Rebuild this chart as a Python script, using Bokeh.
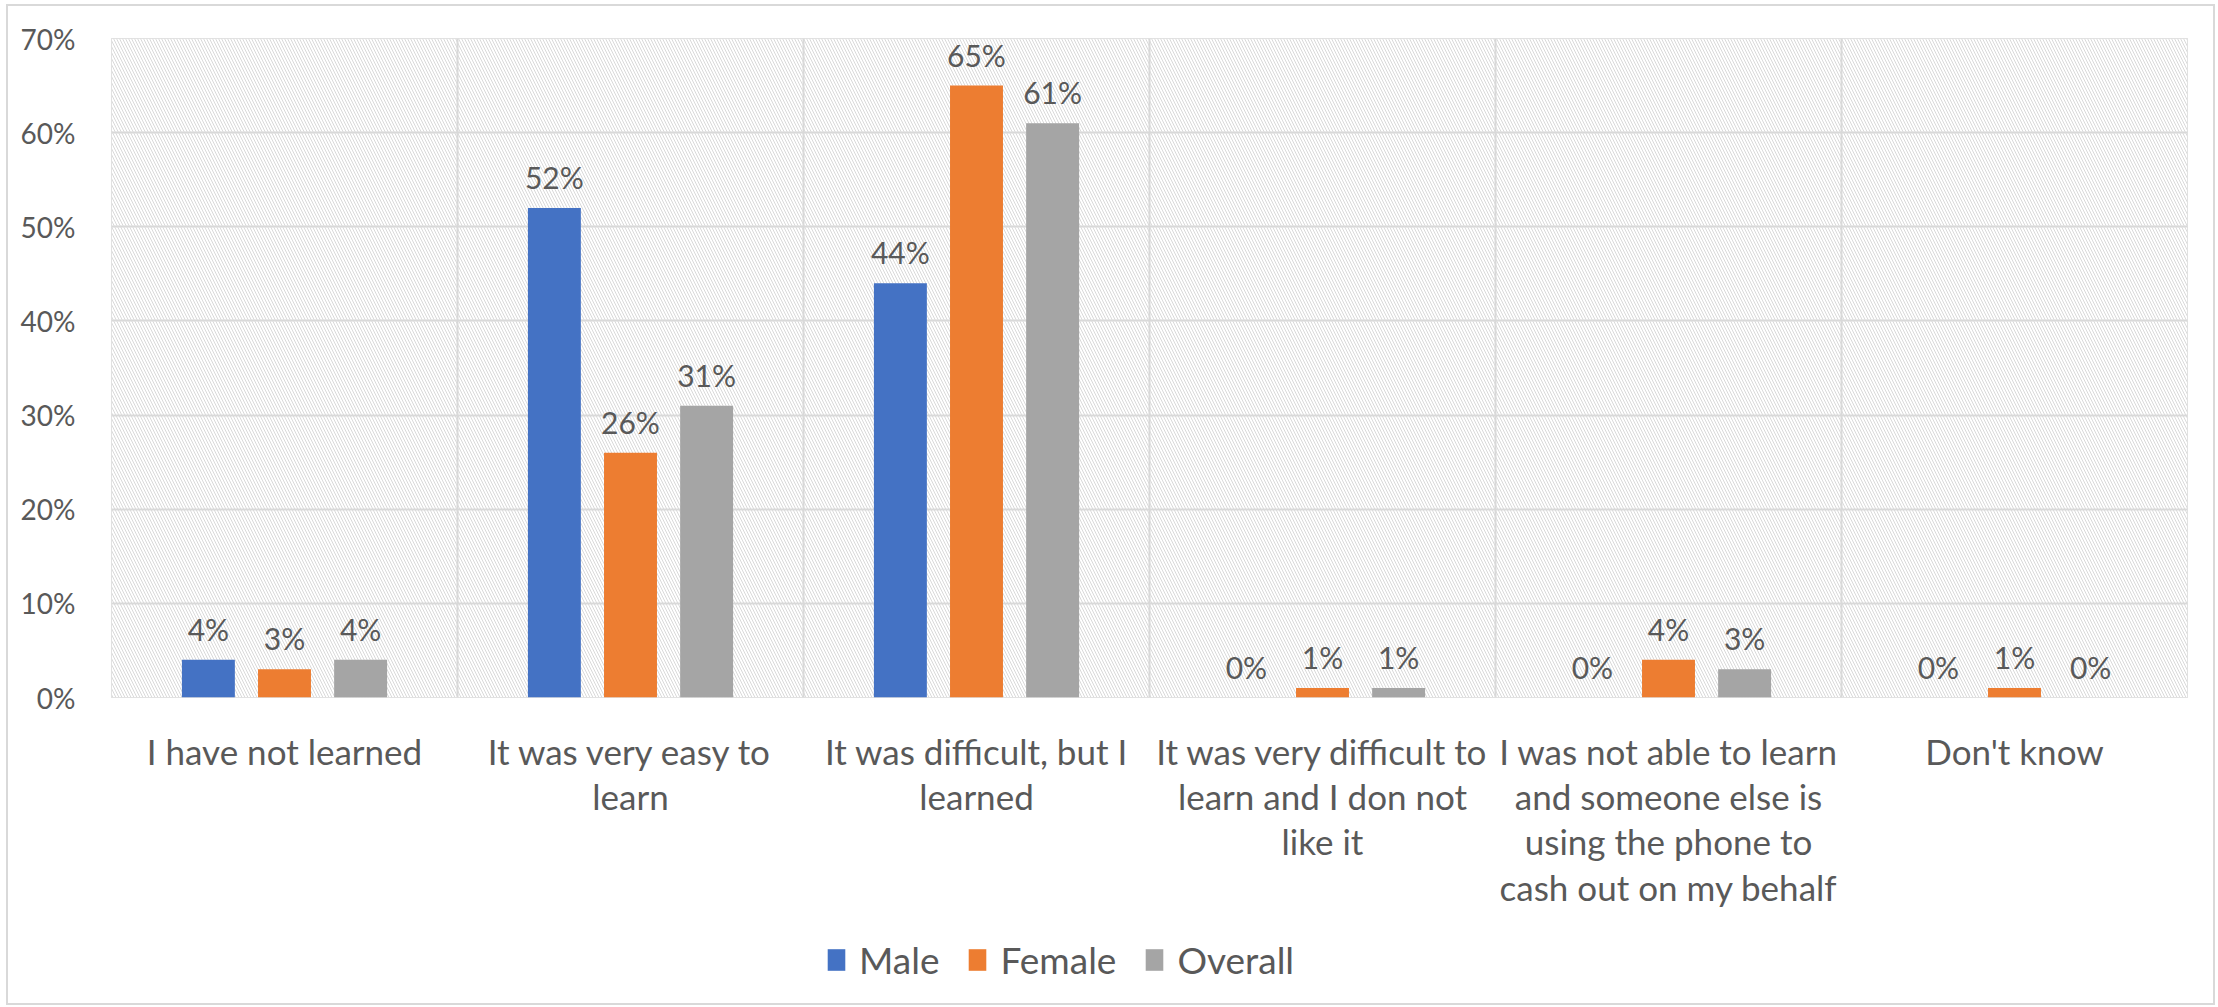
from bokeh.plotting import figure
from bokeh.layouts import column
from bokeh.models import (ColumnDataSource, FixedTicker, PrintfTickFormatter, Legend,
                          LegendItem, Range1d, LabelSet)
from bokeh.transform import dodge
from bokeh.core.properties import value
from bokeh.embed import file_html
from bokeh.resources import INLINE

categories = [
    "I have not learned",
    "It was very easy to\nlearn",
    "It was difficult, but I\nlearned",
    "It was very difficult to\nlearn and I don not\nlike it",
    "I was not able to learn\nand someone else is\nusing the phone to\ncash out on my behalf",
    "Don't know",
]
male = [4, 52, 44, 0, 0, 0]
female = [3, 26, 65, 1, 4, 1]
overall = [4, 31, 61, 1, 3, 0]
y_ticks = [0, 10, 20, 30, 40, 50, 60, 70]
series_names = ["Male", "Female", "Overall"]
series_colors = ["#4472C4", "#ED7D31", "#A5A5A5"]

FONT = "Lato"
TEXT = "#595959"
GRID = "#d9d9d9"

n = len(categories)
centers = [i + 0.5 for i in range(n)]
src = ColumnDataSource(dict(
    x=centers,
    male=male, female=female, overall=overall,
    male_lbl=[f"{v}%" for v in male],
    female_lbl=[f"{v}%" for v in female],
    overall_lbl=[f"{v}%" for v in overall],
))

W = 2205
p = figure(width=W, height=919, output_backend="svg", toolbar_location=None,
           x_range=Range1d(0, n), y_range=Range1d(0, 70),
           min_border_left=103, min_border_right=26, min_border_top=32, min_border_bottom=228)
p.outline_line_color = GRID
p.outline_line_width = 1
p.background_fill_color = "white"
p.border_fill_color = "white"

# hatched plot area
p.quad(left=[0], right=[n], bottom=[0], top=[70], fill_color="white",
       hatch_pattern="left_diagonal_line", hatch_color="#d9d9d9", hatch_scale=6,
       hatch_weight=1, line_color=None, level="image")

# grids
p.ygrid.ticker = FixedTicker(ticks=y_ticks)
p.ygrid.grid_line_color = GRID
p.ygrid.grid_line_width = 2
p.xgrid.ticker = FixedTicker(ticks=list(range(1, n)))
p.xgrid.grid_line_color = GRID
p.xgrid.grid_line_width = 2

offsets = [-0.22, 0.0, 0.22]
fields = ["male", "female", "overall"]
for f, off, col in zip(fields, offsets, series_colors):
    p.vbar(x=dodge("x", off), top=f, width=0.153, bottom=0, source=src,
           fill_color=col, line_color=None)
    lbl = LabelSet(x=dodge("x", off), y=f, text=f + "_lbl", source=src,
                   text_align="center", text_baseline="alphabetic", y_offset=19,
                   text_font=value(FONT), text_font_size=value("30px"),
                   text_color=TEXT)
    p.add_layout(lbl)

# axes
p.yaxis.ticker = FixedTicker(ticks=y_ticks)
p.yaxis.formatter = PrintfTickFormatter(format="%d%%")
p.yaxis.axis_line_color = None
p.yaxis.major_tick_line_color = None
p.yaxis.minor_tick_line_color = None
p.yaxis.major_label_standoff = 30
p.yaxis.major_label_text_font = FONT
p.yaxis.major_label_text_font_size = "28px"
p.yaxis.major_label_text_color = TEXT

p.xaxis.ticker = FixedTicker(ticks=centers)
p.xaxis.major_label_overrides = {c: lab for c, lab in zip(centers, categories)}
p.xaxis.axis_line_color = None
p.xaxis.major_tick_line_color = None
p.xaxis.minor_tick_line_color = None
p.xaxis.major_label_standoff = 26
p.xaxis.major_label_text_font = FONT
p.xaxis.major_label_text_font_size = "35px"
p.xaxis.major_label_text_color = TEXT
p.xaxis.major_label_text_line_height = 1.08

# legend strip (hidden proxy renderers share the data source)
LH = 78
leg = figure(width=W, height=LH, output_backend="svg", toolbar_location=None,
             x_range=Range1d(0, W), y_range=Range1d(0, LH),
             x_axis_location=None, y_axis_location=None,
             min_border_left=0, min_border_right=0, min_border_top=0, min_border_bottom=0)
leg.outline_line_color = None
leg.xgrid.visible = False
leg.ygrid.visible = False
leg_renderers = [leg.vbar(x="x", top=f, width=1, source=src, fill_color=c,
                          line_color=None, visible=False)
                 for f, c in zip(fields, series_colors)]
legend = Legend(items=[LegendItem(label=nm, renderers=[r]) for nm, r in zip(series_names, leg_renderers)],
                orientation="horizontal", location=(714, 21),
                label_text_font=FONT, label_text_font_size="37px", label_text_color=TEXT,
                glyph_width=22, glyph_height=27, label_standoff=12, spacing=27,
                margin=0, padding=10, inactive_fill_alpha=0,
                background_fill_alpha=0, border_line_color=None)
leg.add_layout(legend, "center")

layout = column(p, leg, spacing=0)
layout.styles = {"border": "2px solid #d9d9d9", "margin-left": "6px", "margin-top": "4px"}

open("out.html", "w").write(file_html(layout, INLINE))
